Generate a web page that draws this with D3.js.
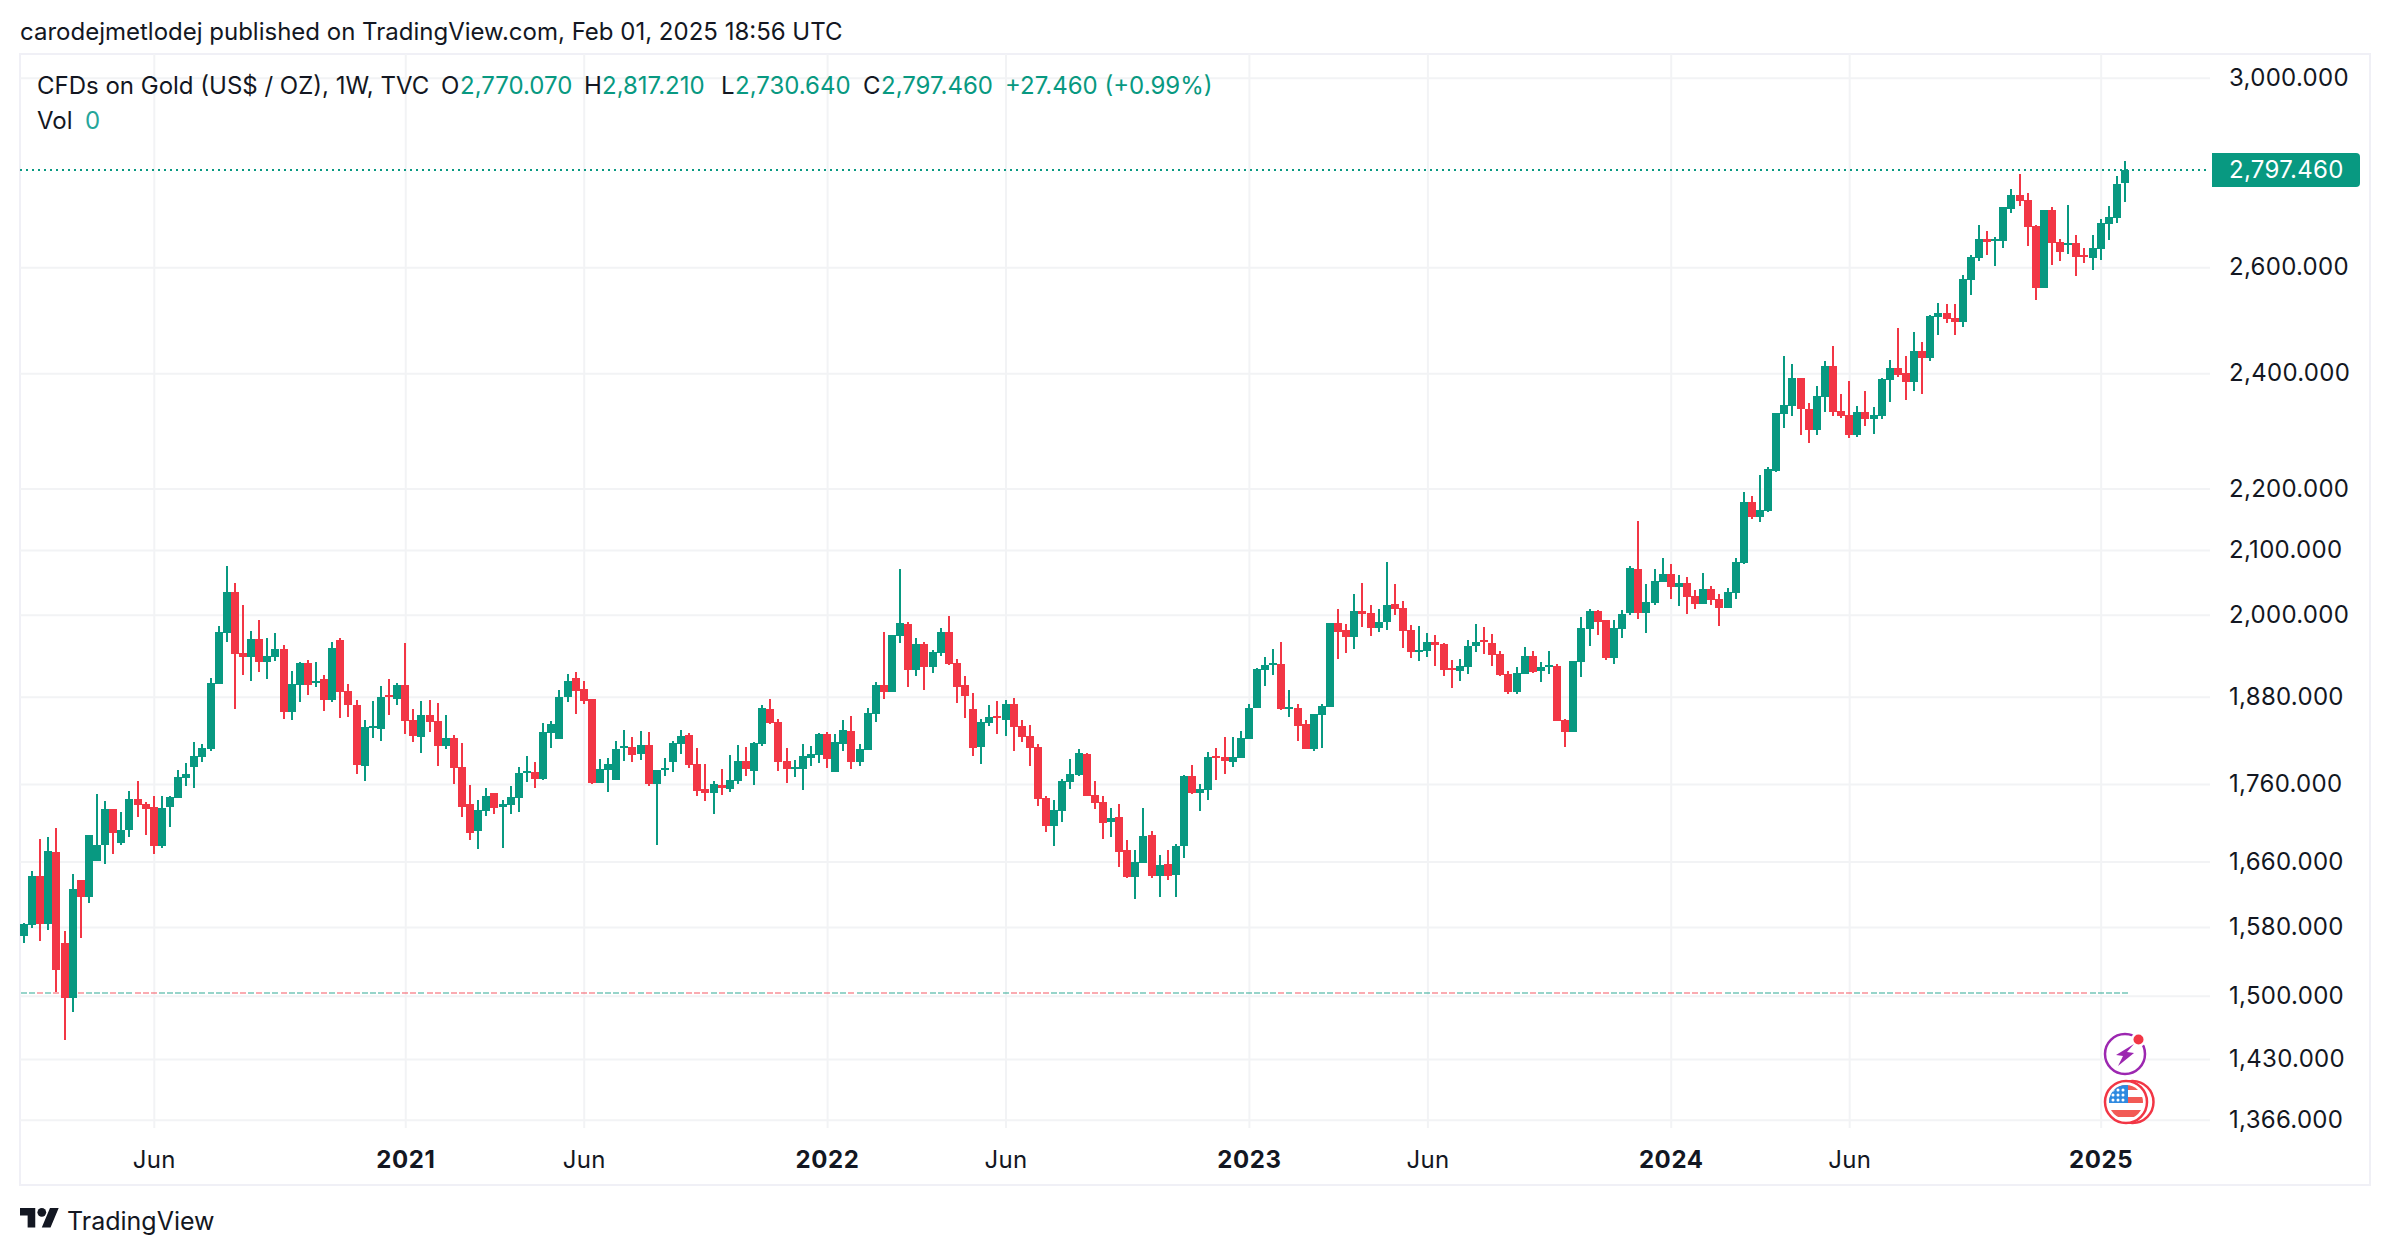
<!DOCTYPE html>
<html>
<head>
<meta charset="utf-8">
<title>CFDs on Gold</title>
<script src="https://cdn.jsdelivr.net/npm/d3@7"></script>
<style>
	html, body { margin: 0; background: #fff; }
	svg { display: block; }
	text { font-family: Inter, "Noto Sans", sans-serif; fill: #131722; }
	.axis path { display: none; }
	.axis line { stroke: #f2f3f5; stroke-width: 2; }
	.axis text { font-size: 24px; letter-spacing: 0.3px; }
	.axis text.year { font-weight: 700; letter-spacing: 0.6px; }
</style>
</head>
<body>
<svg id="chart" width="2390" height="1254"></svg>
<script>
// weekly bars, Feb 2020 - Jan 2025
const opens = [
	1569,1582,1642,1584,1672,1561,1497,1637,1616,1661,
	1681,1727,1683,1700,1740,1734,1730,1680,1730,1741,
	1768,1783,1796,1807,1898,1973,2035,1943,1937,1964,
	1930,1937,1949,1858,1897,1929,1900,1905,1875,1962,
	1888,1868,1784,1836,1835,1882,1877,1897,1847,1824,
	1854,1846,1811,1822,1783,1734,1699,1725,1748,1730,
	1732,1742,1775,1776,1767,1829,1821,1880,1907,1891,
	1877,1761,1779,1765,1809,1810,1800,1813,1760,1779,
	1790,1814,1826,1787,1754,1748,1759,1754,1764,1791,
	1777,1814,1863,1845,1791,1780,1780,1795,1799,1828,
	1776,1814,1832,1790,1806,1856,1897,1887,1968,1986,
	1918,1956,1923,1943,1974,1928,1897,1863,1810,1843,
	1853,1847,1870,1839,1825,1810,1742,1705,1725,1763,
	1772,1800,1746,1736,1710,1717,1675,1641,1658,1694,
	1642,1657,1643,1680,1771,1748,1752,1798,1796,1790,
	1795,1821,1864,1918,1926,1927,1863,1864,1842,1807,
	1854,1865,1988,1977,1967,2006,2003,1980,1989,2016,
	2010,1977,1945,1946,1959,1956,1921,1917,1923,1953,
	1962,1958,1942,1912,1887,1912,1939,1917,1923,1924,
	1847,1831,1930,1979,2006,1992,1936,1979,2003,2070,
	2003,2018,2050,2062,2042,2048,2029,2016,2039,2024,
	2010,2033,2080,2178,2153,2163,2229,2327,2341,2391,
	2336,2299,2357,2413,2332,2325,2290,2331,2318,2324,
	2388,2409,2400,2384,2440,2428,2504,2511,2502,2494,
	2575,2618,2657,2653,2653,2716,2745,2735,2682,2559,
	2714,2650,2644,2648,2624,2618,2636,2686,2698,2770.07
];
const highs = [
	1585,1648,1689,1691,1703,1575,1645,1637,1694,1747,
	1738,1727,1723,1751,1764,1736,1744,1744,1744,1779,
	1788,1817,1814,1907,1983,2075,2049,2015,1976,1992,
	1965,1973,1955,1917,1930,1933,1930,1911,1959,1965,
	1898,1875,1847,1874,1895,1905,1900,1958,1863,1874,
	1875,1871,1854,1826,1815,1759,1739,1755,1748,1739,
	1757,1783,1798,1790,1843,1846,1890,1912,1915,1902,
	1877,1794,1795,1818,1833,1824,1832,1831,1779,1795,
	1818,1833,1829,1809,1787,1764,1780,1799,1813,1810,
	1817,1868,1877,1849,1809,1792,1814,1811,1829,1831,
	1828,1847,1853,1814,1864,1901,1974,1970,2070,1989,
	1965,1959,1948,1980,1998,1934,1910,1885,1849,1868,
	1874,1875,1878,1847,1840,1814,1744,1739,1767,1794,
	1807,1802,1764,1744,1728,1734,1687,1675,1728,1699,
	1668,1675,1682,1772,1786,1760,1803,1809,1824,1824,
	1832,1870,1921,1937,1949,1959,1890,1870,1847,1856,
	1870,1988,2009,1986,2032,2048,2015,2009,2081,2047,
	2021,1985,1983,1973,1970,1958,1933,1934,1962,1986,
	1982,1971,1946,1917,1923,1952,1946,1930,1946,1927,
	1849,1931,1997,2009,2007,1992,1992,2007,2075,2147,
	2047,2070,2088,2078,2061,2058,2038,2064,2044,2032,
	2041,2088,2194,2188,2222,2236,2329,2431,2417,2391,
	2346,2377,2422,2450,2362,2386,2341,2368,2339,2391,
	2424,2483,2431,2476,2457,2508,2530,2528,2528,2584,
	2624,2684,2672,2660,2720,2758,2789,2750,2684,2714,
	2720,2656,2725,2664,2638,2664,2696,2722,2785,2817.21
];
const lows = [
	1561,1579,1563,1576,1504,1451,1482,1567,1609,1661,
	1657,1670,1681,1691,1717,1694,1670,1677,1704,1741,
	1757,1755,1790,1805,1898,1959,1863,1911,1902,1915,
	1905,1931,1849,1847,1873,1883,1894,1860,1873,1850,
	1851,1773,1764,1822,1818,1854,1868,1828,1817,1802,
	1831,1784,1807,1760,1717,1687,1676,1718,1721,1677,
	1721,1723,1763,1755,1765,1809,1821,1873,1856,1870,
	1760,1761,1750,1765,1791,1790,1792,1757,1681,1771,
	1776,1800,1781,1744,1738,1721,1746,1750,1760,1771,
	1759,1811,1842,1777,1761,1769,1752,1784,1788,1781,
	1776,1805,1780,1784,1806,1845,1877,1887,1958,1894,
	1910,1890,1914,1939,1926,1871,1850,1798,1787,1839,
	1828,1825,1805,1817,1784,1731,1697,1680,1710,1754,
	1771,1744,1727,1688,1691,1653,1640,1614,1658,1640,
	1616,1637,1616,1665,1747,1725,1739,1765,1773,1783,
	1795,1821,1864,1895,1911,1861,1851,1818,1807,1805,
	1809,1865,1934,1943,1949,1982,1968,1974,1977,2000,
	1950,1936,1931,1937,1924,1910,1892,1902,1912,1945,
	1942,1924,1910,1884,1884,1912,1914,1901,1912,1846,
	1810,1831,1908,1953,1970,1933,1927,1965,2000,1994,
	1973,2015,2050,2024,2013,2001,2009,2016,2015,1983,
	2010,2024,2078,2150,2145,2161,2227,2303,2324,2290,
	2277,2290,2331,2324,2320,2285,2287,2306,2292,2318,
	2348,2393,2352,2368,2362,2422,2470,2492,2470,2485,
	2546,2612,2624,2602,2638,2708,2722,2642,2536,2559,
	2604,2612,2626,2582,2608,2594,2614,2655,2688,2730.64
];
const closes = [
	1583,1642,1584,1673,1529,1497,1626,1616,1694,1681,
	1727,1696,1700,1740,1732,1727,1680,1728,1743,1769,
	1773,1798,1809,1900,1974,2035,1942,1937,1964,1930,
	1939,1949,1858,1898,1929,1897,1902,1875,1950,1887,
	1868,1786,1838,1839,1880,1880,1897,1846,1825,1854,
	1845,1811,1822,1782,1730,1696,1726,1744,1728,1734,
	1743,1775,1777,1767,1831,1842,1880,1902,1888,1874,
	1761,1780,1787,1807,1811,1799,1813,1760,1779,1781,
	1815,1825,1786,1751,1748,1760,1755,1765,1791,1780,
	1815,1864,1843,1790,1780,1783,1798,1800,1828,1794,
	1817,1833,1790,1807,1857,1897,1887,1970,1988,1918,
	1956,1923,1945,1974,1927,1894,1881,1809,1845,1852,
	1850,1870,1838,1824,1809,1740,1705,1726,1764,1773,
	1802,1744,1735,1709,1716,1672,1641,1660,1692,1642,
	1656,1642,1680,1771,1748,1754,1796,1795,1791,1796,
	1822,1864,1920,1926,1928,1863,1865,1839,1807,1856,
	1867,1988,1974,1967,2006,2001,1980,1989,2015,2009,
	1976,1945,1948,1959,1955,1918,1920,1924,1953,1959,
	1959,1940,1911,1887,1914,1939,1915,1923,1926,1846,
	1831,1931,1980,2006,1989,1936,1980,2001,2072,2003,
	2019,2052,2062,2042,2048,2027,2016,2039,2022,2010,
	2035,2081,2178,2153,2164,2232,2329,2343,2391,2336,
	2299,2359,2413,2331,2324,2290,2331,2318,2325,2389,
	2409,2396,2384,2440,2428,2506,2511,2500,2494,2577,
	2620,2657,2650,2657,2720,2745,2733,2680,2559,2714,
	2648,2630,2648,2620,2620,2638,2688,2700,2768,2797.46
];
const firstWeek = "2020-02-10";
const priceTicks = [3000, 2600, 2400, 2200, 2100, 2000, 1880, 1760, 1660, 1580, 1500, 1430, 1366];
const timeTicks = ["2020-06-01", "2021-01-04", "2021-06-07", "2022-01-03", "2022-06-06", "2023-01-02", "2023-06-05", "2024-01-01", "2024-06-03", "2025-01-06"];
const timeLabels = ["Jun", "2021", "Jun", "2022", "Jun", "2023", "Jun", "2024", "Jun", "2025"];
const lastPrice = 2797.46;
const volumeBase = 1503;	// where the zero volume pane sits on the price scale

const GREEN = "#089981", RED = "#f23645", BORDER = "#f0f0f6";

const svg = d3.select("#chart");
const parseDay = d3.utcParse("%Y-%m-%d");
const bars = opens.map((o, i) => ({
	date: d3.utcWeek.offset(parseDay(firstWeek), i),
	o: o, h: highs[i], l: lows[i], c: closes[i]
}));

const x = d3.scaleUtc().domain([bars[0].date, bars[bars.length - 1].date]).range([24, 2125]);
const y = d3.scaleLog().domain([3000, 1366]).range([77.7, 1119.7]);
const lastY = Math.round(y(lastPrice));

// outer frame
svg.append("rect").attr("x", 20).attr("y", 54).attr("width", 2350).attr("height", 1131)
	.attr("fill", "none").attr("stroke", BORDER).attr("stroke-width", 2);

// axes double as grid
const yAxis = d3.axisRight(y).tickValues(priceTicks).tickSize(-2190).tickPadding(19).tickFormat(d3.format(",.3f"));
svg.append("g").attr("class", "axis").attr("transform", "translate(2210,0)").call(yAxis);

const xAxis = d3.axisBottom(x).tickValues(timeTicks.map(parseDay)).tickSize(-1074).tickPadding(23)
	.tickFormat((d, i) => timeLabels[i]);
const gx = svg.append("g").attr("class", "axis").attr("transform", "translate(0,1128)").call(xAxis);
gx.selectAll("text").classed("year", (d, i) => timeLabels[i] !== "Jun");

// zero volume, one faint dash per bar
svg.append("g").attr("shape-rendering", "crispEdges").selectAll("rect").data(bars).enter().append("rect")
	.attr("x", d => Math.round(x(d.date)) - 3)
	.attr("y", Math.round(y(volumeBase)) - 1)
	.attr("width", 6).attr("height", 2)
	.attr("fill", d => d.c >= d.o ? GREEN : RED)
	.attr("opacity", 0.42);

// candles
const candle = svg.append("g").attr("shape-rendering", "crispEdges").selectAll("g").data(bars).enter().append("g")
	.attr("fill", d => d.c >= d.o ? GREEN : RED);
candle.append("rect")
	.attr("x", d => Math.round(x(d.date)) - 1)
	.attr("width", 2)
	.attr("y", d => Math.round(y(d.h)))
	.attr("height", d => Math.max(1, Math.round(y(d.l)) - Math.round(y(d.h))));
candle.append("rect")
	.attr("x", d => Math.round(x(d.date)) - 4)
	.attr("width", 8)
	.attr("y", d => Math.round(y(Math.max(d.o, d.c))))
	.attr("height", d => Math.max(2, Math.round(y(Math.min(d.o, d.c))) - Math.round(y(Math.max(d.o, d.c)))));

// last price line and tag
svg.append("line").attr("x1", 20).attr("x2", 2210).attr("y1", lastY).attr("y2", lastY)
	.attr("stroke", GREEN).attr("stroke-width", 2).attr("stroke-dasharray", "2 4").attr("shape-rendering", "crispEdges");
svg.append("path").attr("fill", GREEN)
	.attr("d", `M2212 ${lastY - 17}H2356a4 4 0 0 1 4 4V${lastY + 13}a4 4 0 0 1 -4 4H2212Z`);
svg.append("text").attr("x", 2229).attr("y", lastY).attr("dy", "0.32em")
	.style("fill", "#fff").style("font-size", "24px").style("letter-spacing", "0.3px")
	.text(d3.format(",.3f")(lastPrice));

// header texts
const label = (px, py, str, color, size) => svg.append("text").attr("x", px).attr("y", py)
	.style("font-size", (size || 24) + "px").style("fill", color || "#131722").text(str);
label(20, 40, "carodejmetlodej published on TradingView.com, Feb 01, 2025 18:56 UTC");
label(37, 94, "CFDs on Gold (US$ / OZ), 1W, TVC");
label(441, 94, "O");
label(460, 94, "2,770.070", GREEN);
label(584, 94, "H");
label(602, 94, "2,817.210", GREEN);
label(721, 94, "L");
label(735, 94, "2,730.640", GREEN);
label(863, 94, "C");
label(881, 94, "2,797.460", GREEN);
label(1005, 94, "+27.460 (+0.99%)", GREEN);
label(37, 129, "Vol");
label(85, 129, "0", "#26a69a");

// event badges next to the last bar
const bolt = svg.append("g").attr("transform", "translate(2125,1054)");
bolt.append("circle").attr("r", 20).attr("fill", "#fff").attr("stroke", "#9c27b0").attr("stroke-width", 2.5);
bolt.append("circle").attr("cx", 13.5).attr("cy", -14.5).attr("r", 7.5).attr("fill", "#fff");
bolt.append("circle").attr("cx", 13.5).attr("cy", -14.5).attr("r", 5).attr("fill", RED);
bolt.append("path").attr("fill", "#9c27b0").attr("d", "M9 -10 L-9 1 L-2 2 L-7 12 L9 -1 L2 -2 Z");

const flag = svg.append("g").attr("transform", "translate(2126,1102)");
flag.append("circle").attr("cx", 6.5).attr("r", 21).attr("fill", "#fff").attr("stroke", RED).attr("stroke-width", 2.5);
flag.append("circle").attr("r", 21).attr("fill", "#fff").attr("stroke", RED).attr("stroke-width", 2.5);
const clip = svg.append("clipPath").attr("id", "flagClip");
clip.append("circle").attr("r", 17);
const flagBody = flag.append("g").attr("clip-path", "url(#flagClip)");
flagBody.append("rect").attr("x", -18).attr("y", -18).attr("width", 36).attr("height", 36).attr("fill", "#fff");
[[-18, 6], [-5, 6], [8, 7]].forEach(s => flagBody.append("rect").attr("x", -18).attr("y", s[0])
	.attr("width", 36).attr("height", s[1]).attr("fill", "#f25a55"));
flagBody.append("rect").attr("x", -18).attr("y", -18).attr("width", 20).attr("height", 19).attr("fill", "#2f8ae0");
[-12, -7, -2].forEach(sy => [-13, -8, -3].forEach(sx => flagBody.append("circle")
	.attr("cx", sx).attr("cy", sy).attr("r", 1.5).attr("fill", "#fff")));

// TradingView mark
const logo = svg.append("g").attr("transform", "translate(20,1203.6) scale(1.09)").attr("fill", "#131722");
logo.append("path").attr("d", "M14 22H7V11H0V4h14v18zM28 22h-8l7.5-18h8L28 22z");
logo.append("circle").attr("cx", 20).attr("cy", 8).attr("r", 4);
label(67, 1230, "TradingView", "#131722", 25);
</script>
</body>
</html>
